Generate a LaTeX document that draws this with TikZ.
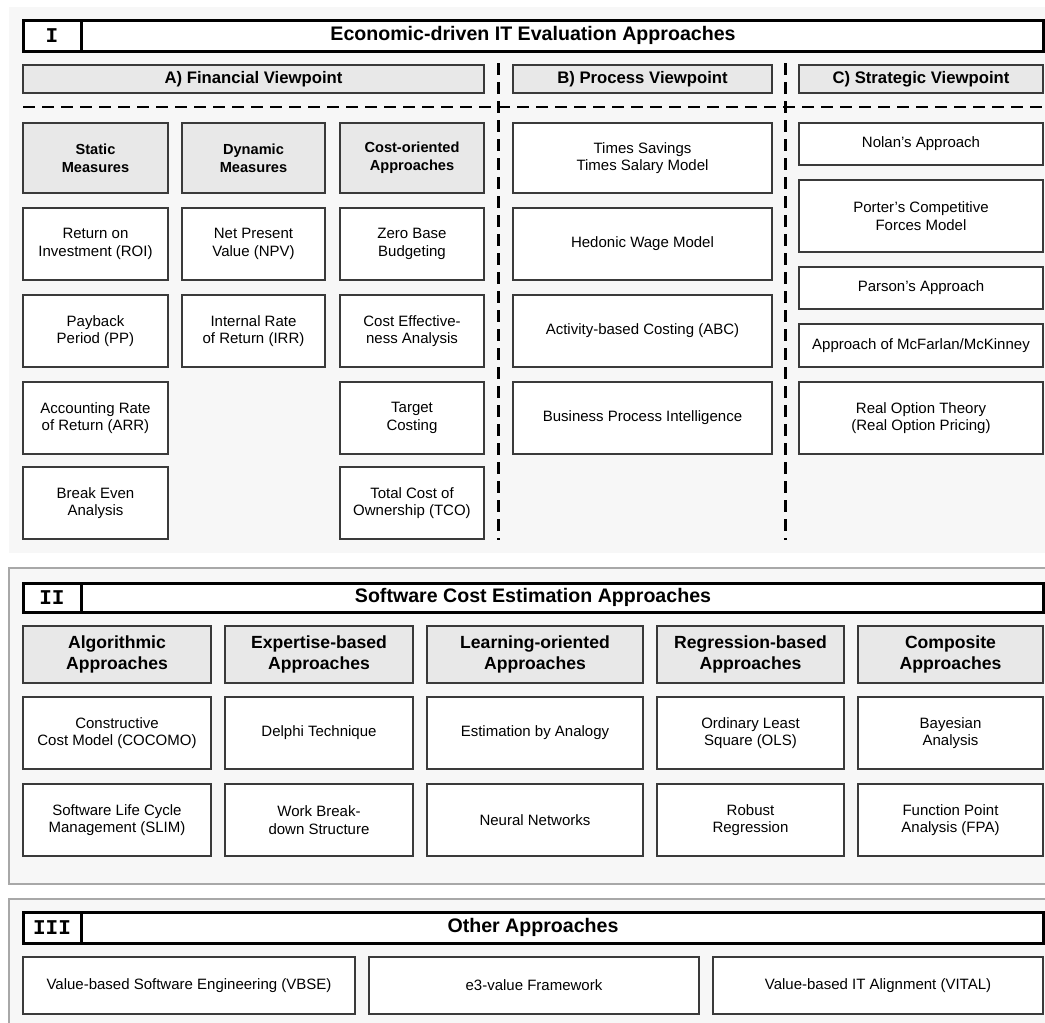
\documentclass[tikz,border=0pt]{standalone}
\usepackage{fontspec}
\setmainfont{Liberation Sans}
\newfontfamily\romfont{Liberation Mono}
\definecolor{panelbg}{HTML}{F7F7F7}
\definecolor{panelline}{HTML}{A8A8A8}
\definecolor{catfill}{HTML}{E8E8E8}
\definecolor{boxline}{HTML}{3A3A3A}
\tikzset{
  panel/.style={fill=panelbg},
  framedpanel/.style={fill=panelbg, draw=panelline, line width=1.5pt},
  base/.style={inner sep=2pt, align=center, line width=1.1pt, draw=boxline},
  item/.style={base, fill=white, font=\fontsize{15}{17.6}\selectfont},
  cat/.style={base, fill=catfill, font=\fontsize{14.6}{17.7}\selectfont\bfseries},
  bigcat/.style={base, fill=catfill, font=\fontsize{17.6}{21.5}\selectfont\bfseries},
  vp/.style={base, fill=catfill, font=\fontsize{16.7}{19}\selectfont\bfseries},
  hdr/.style={draw=black, line width=3pt, fill=white, inner sep=0pt,
              font=\fontsize{19.6}{22}\selectfont\bfseries},
  numcell/.style={draw=black, line width=3pt, fill=white, inner sep=0pt,
              font=\fontsize{21}{22}\selectfont\romfont\bfseries},
  sep/.style={line width=2.1pt, dash pattern=on 12pt off 7pt},
}
% box from its corners (x1,y1)-(x2,y2), y counted downwards
\newcommand\cell[7]{\node[#2, minimum width={#5-#3}, minimum height={#6-#4}]
  (#1) at ({(#3+#5)/2},{(#4+#6)/2}) {#7};}
\begin{document}
\begin{tikzpicture}[x=1pt, y=-1pt]
\useasboundingbox (0,0) rectangle (1045,1023);

% ---------- Section I ----------
\fill[panel] (9,7) rectangle (1045,553);
\cell{hdrI}{hdr}{23}{20}{1043}{51}{Economic-driven IT Evaluation Approaches}
\cell{numI}{numcell}{23}{20}{81}{51}{I}

\cell{vpA}{vp}{23}{65}{484}{93}{A) Financial Viewpoint}
\cell{vpB}{vp}{513}{65}{772}{93}{B) Process Viewpoint}
\cell{vpC}{vp}{799}{65}{1043}{93}{C) Strategic Viewpoint}

\coordinate (hl) at (23,107);
\coordinate (hr) at (1043,107);
\coordinate (v1t) at (498.5,63);
\coordinate (v1b) at (498.5,540);
\coordinate (v2t) at (785.5,63);
\coordinate (v2b) at (785.5,540);
\draw[sep] (hl) -- (hr);
\draw[sep] (v1t) -- (v1b);
\draw[sep] (v2t) -- (v2b);

% financial viewpoint
\cell{stat}{cat}{23}{123}{168}{193}{Static\\Measures}
\cell{roi}{item}{23}{208}{168}{280}{Return on\\Investment (ROI)}
\cell{pp}{item}{23}{295}{168}{367}{Payback\\Period (PP)}
\cell{arr}{item}{23}{382}{168}{454}{Accounting Rate\\of Return (ARR)}
\cell{bea}{item}{23}{467}{168}{539}{Break Even\\Analysis}

\cell{dyn}{cat}{182}{123}{325}{193}{Dynamic\\Measures}
\cell{npv}{item}{182}{208}{325}{280}{Net Present\\Value (NPV)}
\cell{irr}{item}{182}{295}{325}{367}{Internal Rate\\of Return (IRR)}

\cell{cost}{cat}{340}{123}{484}{193}{Cost-oriented\\Approaches}
\cell{zbb}{item}{340}{208}{484}{280}{Zero Base\\Budgeting}
\cell{cea}{item}{340}{295}{484}{367}{Cost Effective-\\ness Analysis}
\cell{tgt}{item}{340}{382}{484}{454}{Target\\Costing}
\cell{tco}{item}{340}{467}{484}{539}{Total Cost of\\Ownership (TCO)}

% process viewpoint
\cell{tsts}{item}{513}{123}{772}{193}{Times Savings\\Times Salary Model}
\cell{hwm}{item}{513}{208}{772}{280}{Hedonic Wage Model}
\cell{abc}{item}{513}{295}{772}{367}{Activity-based Costing (ABC)}
\cell{bpi}{item}{513}{382}{772}{454}{Business Process Intelligence}

% strategic viewpoint
\cell{nolan}{item}{799}{123}{1043}{165}{Nolan’s Approach}
\cell{porter}{item}{799}{180}{1043}{252}{Porter’s Competitive\\Forces Model}
\cell{parson}{item}{799}{267}{1043}{309}{Parson’s Approach}
\cell{mcf}{item}{799}{324}{1043}{367}{Approach of McFarlan/McKinney}
\cell{rot}{item}{799}{382}{1043}{454}{Real Option Theory\\(Real Option Pricing)}

% ---------- Section II ----------
\draw[framedpanel] (9,568) rectangle (1050,884);
\cell{hdrII}{hdr}{23}{583}{1043}{612}{Software Cost Estimation Approaches}
\cell{numII}{numcell}{23}{583}{81}{612}{II}

\cell{alg}{bigcat}{23}{626}{211}{683}{Algorithmic\\Approaches}
\cell{cocomo}{item}{23}{697}{211}{769}{Constructive\\Cost Model (COCOMO)}
\cell{slim}{item}{23}{784}{211}{856}{Software Life Cycle\\Management (SLIM)}

\cell{exp}{bigcat}{225}{626}{413}{683}{Expertise-based\\Approaches}
\cell{delphi}{item}{225}{697}{413}{769}{Delphi Technique}
\cell{wbs}{item}{225}{784}{413}{856}{Work Break-\\down Structure}

\cell{learn}{bigcat}{427}{626}{643}{683}{Learning-oriented\\Approaches}
\cell{analogy}{item}{427}{697}{643}{769}{Estimation by Analogy}
\cell{nn}{item}{427}{784}{643}{856}{Neural Networks}

\cell{regr}{bigcat}{657}{626}{844}{683}{Regression-based\\Approaches}
\cell{ols}{item}{657}{697}{844}{769}{Ordinary Least\\Square (OLS)}
\cell{robust}{item}{657}{784}{844}{856}{Robust\\Regression}

\cell{comp}{bigcat}{858}{626}{1043}{683}{Composite\\Approaches}
\cell{bayes}{item}{858}{697}{1043}{769}{Bayesian\\Analysis}
\cell{fpa}{item}{858}{784}{1043}{856}{Function Point\\Analysis (FPA)}

% ---------- Section III ----------
\draw[framedpanel] (9,899) rectangle (1050,1030);
\cell{hdrIII}{hdr}{23}{912}{1043}{943}{Other Approaches}
\cell{numIII}{numcell}{23}{912}{81}{943}{III}

\cell{vbse}{item}{23}{957}{355}{1014}{Value-based Software Engineering (VBSE)}
\cell{e3v}{item}{369}{957}{699}{1014}{e3-value Framework}
\cell{vital}{item}{713}{957}{1043}{1014}{Value-based IT Alignment (VITAL)}
\end{tikzpicture}
\end{document}
